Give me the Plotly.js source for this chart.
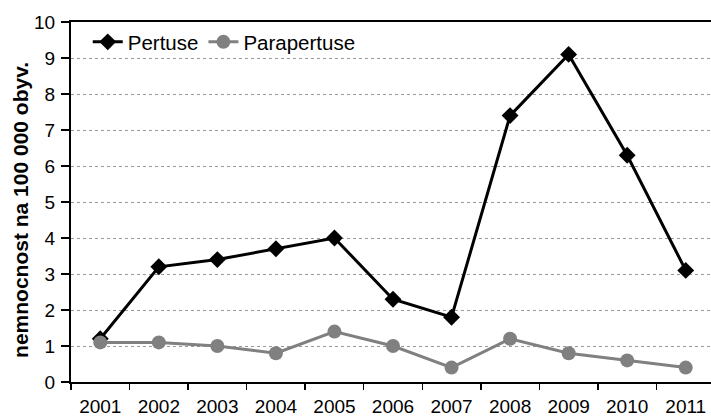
<!DOCTYPE html>
<html>
<head>
<meta charset="utf-8">
<script src="https://cdn.plot.ly/plotly-3.0.1.min.js"></script>
<style>
html,body{margin:0;padding:0;overflow:hidden;background:#fff;}
#chart{width:715px;height:420px;}
</style>
</head>
<body>
<div id="chart"></div>
<script>
const years = ["2001","2002","2003","2004","2005","2006","2007","2008","2009","2010","2011"];
const pertuse = [1.2, 3.2, 3.4, 3.7, 4.0, 2.3, 1.8, 7.4, 9.1, 6.3, 3.1];
const parapertuse = [1.1, 1.1, 1.0, 0.8, 1.4, 1.0, 0.4, 1.2, 0.8, 0.6, 0.4];
const seriesNames = ["Pertuse", "Parapertuse"];
const yTitle = "nemnocnost na 100 000 obyv.";

const traces = [
  {
    x: years, y: pertuse, name: seriesNames[0], type: "scatter", mode: "lines+markers",
    line: {color: "#000000", width: 3},
    marker: {symbol: "diamond", size: 13, color: "#000000"}
  },
  {
    x: years, y: parapertuse, name: seriesNames[1], type: "scatter", mode: "lines+markers",
    line: {color: "#808080", width: 3},
    marker: {symbol: "circle", size: 14, color: "#808080"}
  }
];

const layout = {
  width: 715, height: 420,
  margin: {l: 71, r: 0, t: 22, b: 38, pad: 0},
  paper_bgcolor: "#ffffff", plot_bgcolor: "#ffffff",
  font: {family: "Liberation Sans, Arial, sans-serif", color: "#000000", size: 19},
  showlegend: true,
  legend: {orientation: "h", x: 0.026, y: 1.0, xanchor: "left", yanchor: "top",
           font: {size: 20.5}, bgcolor: "rgba(0,0,0,0)", itemwidth: 30, tracegroupgap: 0},
  xaxis: {
    type: "category", range: [-0.5, years.length - 0.5], autorange: false,
    tickson: "boundaries", ticks: "outside", ticklen: 6, tickwidth: 1.5, tickcolor: "#000",
    showline: true, linecolor: "#000", linewidth: 2, mirror: true, showgrid: false,
    tickfont: {size: 19}, zeroline: false, ticklabelstandoff: 6
  },
  yaxis: {
    range: [0, 10], dtick: 1, ticks: "outside", ticklen: 8, tickwidth: 1.5, tickcolor: "#000",
    showline: true, linecolor: "#000", linewidth: 2, mirror: true,
    showgrid: true, gridcolor: "#999999", gridwidth: 1, griddash: "dot",
    zeroline: false, tickfont: {size: 19}, ticklabelstandoff: 2
  },
  annotations: [{
    text: "<b>" + yTitle + "</b>", textangle: -90, showarrow: false,
    xref: "paper", yref: "paper", x: -50 / 644, y: 0.478, xanchor: "center", yanchor: "middle",
    font: {size: 21, color: "#000"}
  }]
};

Plotly.newPlot("chart", traces, layout, {displayModeBar: false, staticPlot: true});
</script>
</body>
</html>
